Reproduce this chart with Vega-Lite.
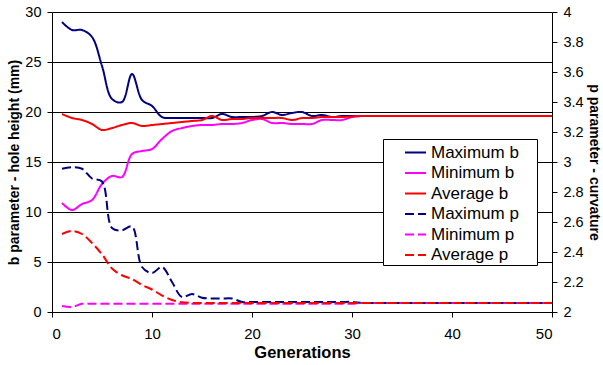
{
  "$schema": "https://vega.github.io/schema/vega-lite/v6.json",
  "width": 500,
  "height": 300,
  "autosize": {"type": "none"},
  "padding": {"left": 52, "top": 12, "right": 51, "bottom": 53},
  "background": "white",
  "config": {
    "view": {"stroke": null},
    "font": "Liberation Sans",
    "axis": {
      "labelFont": "Liberation Sans",
      "labelFontSize": 14.5,
      "labelColor": "#000",
      "titleFont": "Liberation Sans",
      "titleFontSize": 14,
      "titleFontWeight": "bold",
      "titleColor": "#000",
      "domainColor": "#000",
      "tickColor": "#000",
      "tickSize": 5,
      "gridColor": "#000",
      "gridWidth": 1
    },
    "legend": {
      "labelFont": "Liberation Sans",
      "labelFontSize": 17,
      "labelColor": "#000"
    }
  },
  "data": {
    "values": [
      {"g": 1, "Maximum b": 29.0, "Minimum b": 10.9, "Average b": 19.8, "Maximum p": 2.955, "Minimum p": 2.04, "Average p": 2.52},
      {"g": 2, "Maximum b": 28.2, "Minimum b": 10.2, "Average b": 19.4, "Maximum p": 2.965, "Minimum p": 2.033, "Average p": 2.54},
      {"g": 3, "Maximum b": 28.2, "Minimum b": 10.8, "Average b": 19.2, "Maximum p": 2.955, "Minimum p": 2.055, "Average p": 2.52},
      {"g": 4, "Maximum b": 27.5, "Minimum b": 11.2, "Average b": 18.8, "Maximum p": 2.89, "Minimum p": 2.055, "Average p": 2.46},
      {"g": 5, "Maximum b": 24.6, "Minimum b": 12.8, "Average b": 18.2, "Maximum p": 2.87, "Minimum p": 2.055, "Average p": 2.385},
      {"g": 6, "Maximum b": 21.3, "Minimum b": 13.6, "Average b": 18.4, "Maximum p": 2.56, "Minimum p": 2.055, "Average p": 2.29},
      {"g": 7, "Maximum b": 21.0, "Minimum b": 13.5, "Average b": 18.7, "Maximum p": 2.545, "Minimum p": 2.055, "Average p": 2.245},
      {"g": 8, "Maximum b": 23.8, "Minimum b": 15.8, "Average b": 18.9, "Maximum p": 2.57, "Minimum p": 2.055, "Average p": 2.22},
      {"g": 9, "Maximum b": 21.2, "Minimum b": 16.1, "Average b": 18.6, "Maximum p": 2.30, "Minimum p": 2.055, "Average p": 2.18},
      {"g": 10, "Maximum b": 20.6, "Minimum b": 16.3, "Average b": 18.7, "Maximum p": 2.26, "Minimum p": 2.055, "Average p": 2.15},
      {"g": 11, "Maximum b": 19.5, "Minimum b": 17.3, "Average b": 18.8, "Maximum p": 2.30, "Minimum p": 2.055, "Average p": 2.11},
      {"g": 12, "Maximum b": 19.4, "Minimum b": 18.1, "Average b": 18.9, "Maximum p": 2.20, "Minimum p": 2.055, "Average p": 2.08},
      {"g": 13, "Maximum b": 19.4, "Minimum b": 18.4, "Average b": 19.0, "Maximum p": 2.10, "Minimum p": 2.055, "Average p": 2.065},
      {"g": 14, "Maximum b": 19.4, "Minimum b": 18.6, "Average b": 19.1, "Maximum p": 2.12, "Minimum p": 2.055, "Average p": 2.06},
      {"g": 15, "Maximum b": 19.4, "Minimum b": 18.7, "Average b": 19.2, "Maximum p": 2.095, "Minimum p": 2.055, "Average p": 2.06},
      {"g": 16, "Maximum b": 19.4, "Minimum b": 18.7, "Average b": 19.6, "Maximum p": 2.09, "Minimum p": 2.055, "Average p": 2.06},
      {"g": 17, "Maximum b": 19.8, "Minimum b": 18.8, "Average b": 19.2, "Maximum p": 2.09, "Minimum p": 2.055, "Average p": 2.06},
      {"g": 18, "Maximum b": 19.5, "Minimum b": 18.8, "Average b": 19.3, "Maximum p": 2.09, "Minimum p": 2.055, "Average p": 2.06},
      {"g": 19, "Maximum b": 19.5, "Minimum b": 18.9, "Average b": 19.3, "Maximum p": 2.067, "Minimum p": 2.055, "Average p": 2.06},
      {"g": 20, "Maximum b": 19.5, "Minimum b": 19.2, "Average b": 19.4, "Maximum p": 2.067, "Minimum p": 2.055, "Average p": 2.06},
      {"g": 21, "Maximum b": 19.6, "Minimum b": 19.3, "Average b": 19.4, "Maximum p": 2.067, "Minimum p": 2.055, "Average p": 2.06},
      {"g": 22, "Maximum b": 20.0, "Minimum b": 18.9, "Average b": 19.4, "Maximum p": 2.067, "Minimum p": 2.055, "Average p": 2.06},
      {"g": 23, "Maximum b": 19.7, "Minimum b": 18.9, "Average b": 19.4, "Maximum p": 2.067, "Minimum p": 2.055, "Average p": 2.06},
      {"g": 24, "Maximum b": 19.9, "Minimum b": 18.8, "Average b": 19.2, "Maximum p": 2.067, "Minimum p": 2.055, "Average p": 2.06},
      {"g": 25, "Maximum b": 20.0, "Minimum b": 18.8, "Average b": 19.4, "Maximum p": 2.067, "Minimum p": 2.055, "Average p": 2.06},
      {"g": 26, "Maximum b": 19.6, "Minimum b": 18.8, "Average b": 19.4, "Maximum p": 2.067, "Minimum p": 2.055, "Average p": 2.06},
      {"g": 27, "Maximum b": 19.7, "Minimum b": 19.2, "Average b": 19.5, "Maximum p": 2.067, "Minimum p": 2.055, "Average p": 2.06},
      {"g": 28, "Maximum b": 19.5, "Minimum b": 19.2, "Average b": 19.5, "Maximum p": 2.067, "Minimum p": 2.055, "Average p": 2.06},
      {"g": 29, "Maximum b": 19.6, "Minimum b": 19.2, "Average b": 19.5, "Maximum p": 2.067, "Minimum p": 2.055, "Average p": 2.06},
      {"g": 30, "Maximum b": 19.6, "Minimum b": 19.5, "Average b": 19.55, "Maximum p": 2.067, "Minimum p": 2.055, "Average p": 2.06},
      {"g": 31, "Maximum b": 19.6, "Minimum b": 19.6, "Average b": 19.6, "Maximum p": 2.06, "Minimum p": 2.06, "Average p": 2.06},
      {"g": 32, "Maximum b": 19.6, "Minimum b": 19.6, "Average b": 19.6, "Maximum p": 2.06, "Minimum p": 2.06, "Average p": 2.06},
      {"g": 33, "Maximum b": 19.6, "Minimum b": 19.6, "Average b": 19.6, "Maximum p": 2.06, "Minimum p": 2.06, "Average p": 2.06},
      {"g": 34, "Maximum b": 19.6, "Minimum b": 19.6, "Average b": 19.6, "Maximum p": 2.06, "Minimum p": 2.06, "Average p": 2.06},
      {"g": 35, "Maximum b": 19.6, "Minimum b": 19.6, "Average b": 19.6, "Maximum p": 2.06, "Minimum p": 2.06, "Average p": 2.06},
      {"g": 36, "Maximum b": 19.6, "Minimum b": 19.6, "Average b": 19.6, "Maximum p": 2.06, "Minimum p": 2.06, "Average p": 2.06},
      {"g": 37, "Maximum b": 19.6, "Minimum b": 19.6, "Average b": 19.6, "Maximum p": 2.06, "Minimum p": 2.06, "Average p": 2.06},
      {"g": 38, "Maximum b": 19.6, "Minimum b": 19.6, "Average b": 19.6, "Maximum p": 2.06, "Minimum p": 2.06, "Average p": 2.06},
      {"g": 39, "Maximum b": 19.6, "Minimum b": 19.6, "Average b": 19.6, "Maximum p": 2.06, "Minimum p": 2.06, "Average p": 2.06},
      {"g": 40, "Maximum b": 19.6, "Minimum b": 19.6, "Average b": 19.6, "Maximum p": 2.06, "Minimum p": 2.06, "Average p": 2.06},
      {"g": 41, "Maximum b": 19.6, "Minimum b": 19.6, "Average b": 19.6, "Maximum p": 2.06, "Minimum p": 2.06, "Average p": 2.06},
      {"g": 42, "Maximum b": 19.6, "Minimum b": 19.6, "Average b": 19.6, "Maximum p": 2.06, "Minimum p": 2.06, "Average p": 2.06},
      {"g": 43, "Maximum b": 19.6, "Minimum b": 19.6, "Average b": 19.6, "Maximum p": 2.06, "Minimum p": 2.06, "Average p": 2.06},
      {"g": 44, "Maximum b": 19.6, "Minimum b": 19.6, "Average b": 19.6, "Maximum p": 2.06, "Minimum p": 2.06, "Average p": 2.06},
      {"g": 45, "Maximum b": 19.6, "Minimum b": 19.6, "Average b": 19.6, "Maximum p": 2.06, "Minimum p": 2.06, "Average p": 2.06},
      {"g": 46, "Maximum b": 19.6, "Minimum b": 19.6, "Average b": 19.6, "Maximum p": 2.06, "Minimum p": 2.06, "Average p": 2.06},
      {"g": 47, "Maximum b": 19.6, "Minimum b": 19.6, "Average b": 19.6, "Maximum p": 2.06, "Minimum p": 2.06, "Average p": 2.06},
      {"g": 48, "Maximum b": 19.6, "Minimum b": 19.6, "Average b": 19.6, "Maximum p": 2.06, "Minimum p": 2.06, "Average p": 2.06},
      {"g": 49, "Maximum b": 19.6, "Minimum b": 19.6, "Average b": 19.6, "Maximum p": 2.06, "Minimum p": 2.06, "Average p": 2.06},
      {"g": 50, "Maximum b": 19.6, "Minimum b": 19.6, "Average b": 19.6, "Maximum p": 2.06, "Minimum p": 2.06, "Average p": 2.06}
    ]
  },
  "encoding": {
    "x": {
      "field": "g",
      "type": "quantitative",
      "scale": {"domain": [0, 50], "nice": false},
      "axis": {"values": [0, 10, 20, 30, 40, 50], "title": "Generations", "grid": false, "labelFontSize": 15, "labelPadding": 9, "titlePadding": 3, "titleFontSize": 16.5}
    },
    "color": {
      "field": "series",
      "type": "nominal",
      "scale": {
        "domain": ["Maximum b", "Minimum b", "Average b", "Maximum p", "Minimum p", "Average p"],
        "range": ["#000080", "#FF00FF", "#FF0000", "#000080", "#FF00FF", "#FF0000"]
      },
      "legend": {
        "title": " ",
        "titleOrient": "right",
        "titleFontSize": 8,
        "titlePadding": 16,
        "orient": "none",
        "legendX": 331,
        "legendY": 127,
        "strokeColor": "#000",
        "fillColor": "#fff",
        "padding": 2,
        "symbolType": "stroke",
        "symbolSize": 441,
        "symbolStrokeWidth": 2,
        "symbolOffset": 19,
        "labelOffset": 4,
        "rowPadding": 0.5
      }
    },
    "strokeDash": {
      "field": "series",
      "type": "nominal",
      "scale": {
        "domain": ["Maximum b", "Minimum b", "Average b", "Maximum p", "Minimum p", "Average p"],
        "range": [[1, 0], [1, 0], [1, 0], [9, 4], [9, 4], [9, 4]]
      },
      "legend": {
        "title": " "
      }
    }
  },
  "layer": [
    {
      "transform": [{"fold": ["Maximum b", "Minimum b", "Average b"], "as": ["series", "value"]}],
      "mark": {"type": "line", "interpolate": "catmull-rom", "strokeWidth": 2},
      "encoding": {
        "y": {
          "field": "value",
          "type": "quantitative",
          "scale": {"domain": [0, 30], "nice": false},
          "axis": {"orient": "left", "values": [0, 5, 10, 15, 20, 25, 30], "title": "b parameter - hole height (mm)", "grid": true, "labelPadding": 6, "titlePadding": 3}
        }
      }
    },
    {
      "transform": [{"fold": ["Maximum p", "Minimum p", "Average p"], "as": ["series", "value"]}],
      "mark": {"type": "line", "interpolate": "catmull-rom", "strokeWidth": 2},
      "encoding": {
        "y": {
          "field": "value",
          "type": "quantitative",
          "scale": {"domain": [2, 4], "nice": false},
          "axis": {"orient": "right", "values": [2, 2.2, 2.4, 2.6, 2.8, 3, 3.2, 3.4, 3.6, 3.8, 4], "format": "~g", "title": "p parameter - curvature", "grid": false, "labelPadding": 6, "titlePadding": 3}
        }
      }
    }
  ],
  "resolve": {"scale": {"y": "independent"}}
}
